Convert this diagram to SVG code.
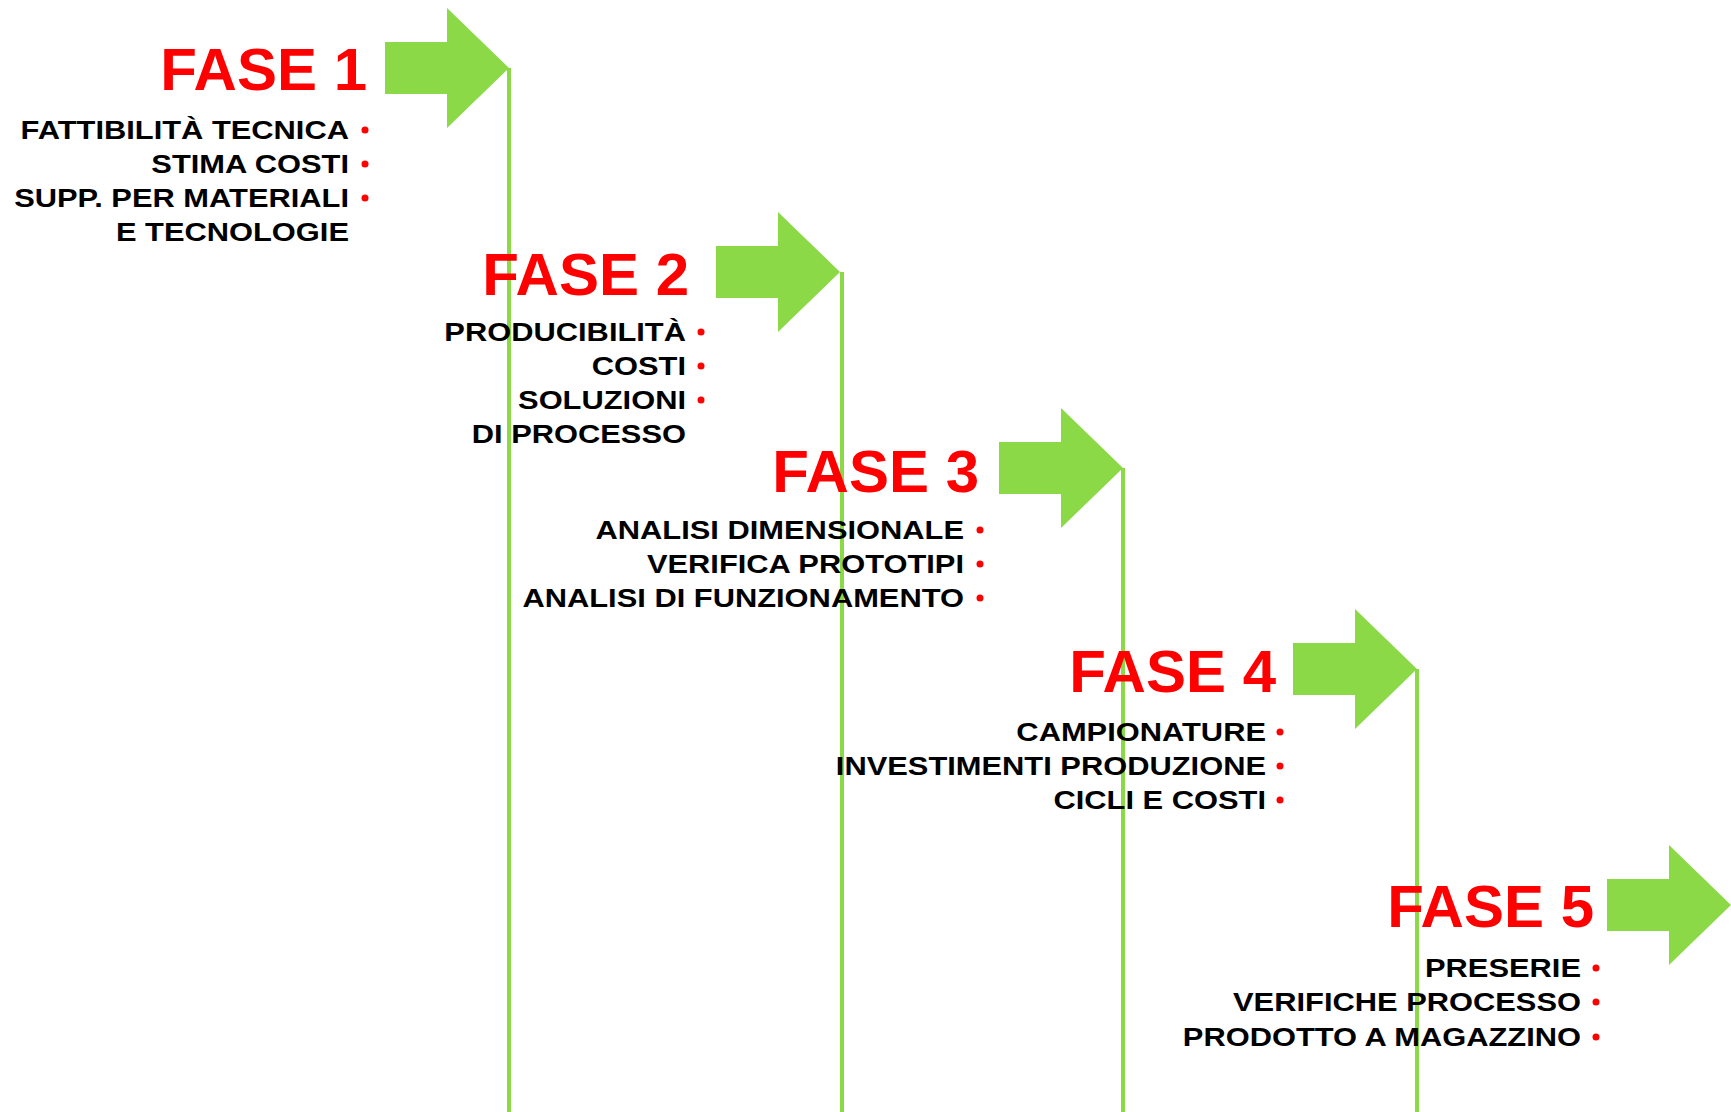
<svg xmlns="http://www.w3.org/2000/svg" width="1731" height="1112" viewBox="0 0 1731 1112">
<style>
.title{font-family:"Liberation Sans",Arial,sans-serif;font-weight:bold;font-size:60px;fill:#ff0000;text-anchor:end}
.item{font-family:"Liberation Sans",Arial,sans-serif;font-weight:bold;font-size:25.5px;fill:#000;text-anchor:end}
.dot{fill:#ff0000}
.vline{stroke:#8bd946;stroke-width:4;fill:none}
.arrow{fill:#8bd946}
</style>
<defs>
<path id="arr" d="M-124,-26 H-62 V-60 L0,0 L-62,60 V26 H-124 Z"/>
</defs>
<rect width="1731" height="1112" fill="#ffffff"/>
<g id="connectors">
<line class="vline" x1="509" y1="68" x2="509" y2="1112"/>
<line class="vline" x1="842" y1="272" x2="842" y2="1112"/>
<line class="vline" x1="1123" y1="468" x2="1123" y2="1112"/>
<line class="vline" x1="1417" y1="669" x2="1417" y2="1112"/>
</g>
<g id="fase1">
<use href="#arr" class="arrow" transform="translate(509,68)"/>
<text class="title" x="367" y="90">FASE 1</text>
<g transform="translate(349,0) scale(1.21,1)">
<text class="item" x="0" y="139">FATTIBILITÀ TECNICA</text>
<text class="item" x="0" y="173">STIMA COSTI</text>
<text class="item" x="0" y="207">SUPP. PER MATERIALI</text>
<text class="item" x="0" y="241">E TECNOLOGIE</text>
</g>
<circle class="dot" cx="365" cy="130" r="3.5"/>
<circle class="dot" cx="365" cy="164" r="3.5"/>
<circle class="dot" cx="365" cy="198" r="3.5"/>
</g>
<g id="fase2">
<use href="#arr" class="arrow" transform="translate(840,272)"/>
<text class="title" x="689" y="295">FASE 2</text>
<g transform="translate(686,0) scale(1.21,1)">
<text class="item" x="0" y="341">PRODUCIBILITÀ</text>
<text class="item" x="0" y="375">COSTI</text>
<text class="item" x="0" y="409">SOLUZIONI</text>
<text class="item" x="0" y="443">DI PROCESSO</text>
</g>
<circle class="dot" cx="701" cy="332" r="3.5"/>
<circle class="dot" cx="701" cy="366" r="3.5"/>
<circle class="dot" cx="701" cy="400" r="3.5"/>
</g>
<g id="fase3">
<use href="#arr" class="arrow" transform="translate(1123,468)"/>
<text class="title" x="979" y="492">FASE 3</text>
<g transform="translate(964,0) scale(1.21,1)">
<text class="item" x="0" y="539">ANALISI DIMENSIONALE</text>
<text class="item" x="0" y="573">VERIFICA PROTOTIPI</text>
<text class="item" x="0" y="607">ANALISI DI FUNZIONAMENTO</text>
</g>
<circle class="dot" cx="980" cy="530" r="3.5"/>
<circle class="dot" cx="980" cy="564" r="3.5"/>
<circle class="dot" cx="980" cy="598" r="3.5"/>
</g>
<g id="fase4">
<use href="#arr" class="arrow" transform="translate(1417,669)"/>
<text class="title" x="1276" y="692">FASE 4</text>
<g transform="translate(1266,0) scale(1.21,1)">
<text class="item" x="0" y="741">CAMPIONATURE</text>
<text class="item" x="0" y="775">INVESTIMENTI PRODUZIONE</text>
<text class="item" x="0" y="809">CICLI E COSTI</text>
</g>
<circle class="dot" cx="1280" cy="732" r="3.5"/>
<circle class="dot" cx="1280" cy="766" r="3.5"/>
<circle class="dot" cx="1280" cy="800" r="3.5"/>
</g>
<g id="fase5">
<use href="#arr" class="arrow" transform="translate(1731,905)"/>
<text class="title" x="1594" y="927">FASE 5</text>
<g transform="translate(1581,0) scale(1.21,1)">
<text class="item" x="0" y="977">PRESERIE</text>
<text class="item" x="0" y="1011">VERIFICHE PROCESSO</text>
<text class="item" x="0" y="1046">PRODOTTO A MAGAZZINO</text>
</g>
<circle class="dot" cx="1596" cy="968" r="3.5"/>
<circle class="dot" cx="1596" cy="1002" r="3.5"/>
<circle class="dot" cx="1596" cy="1037" r="3.5"/>
</g>
</svg>
